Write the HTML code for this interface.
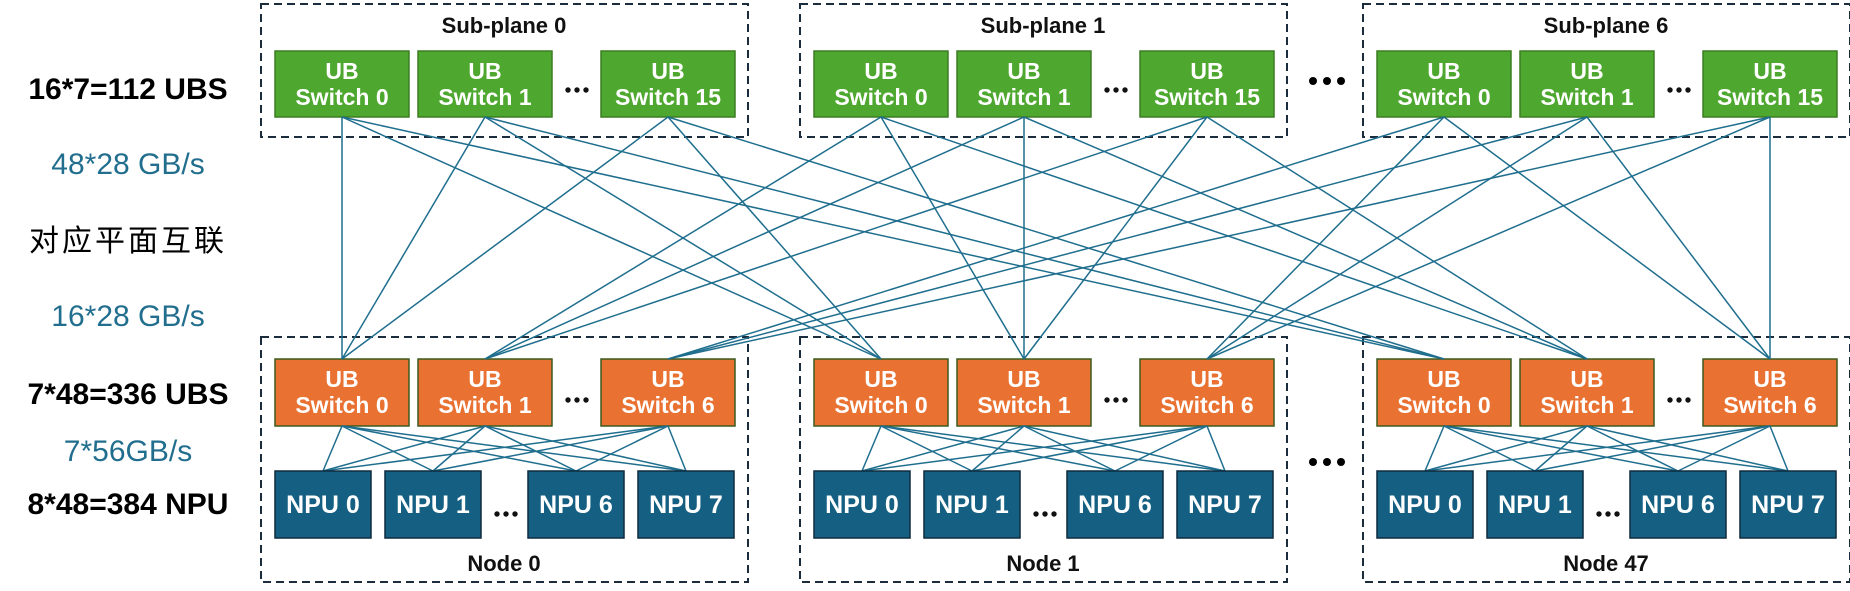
<!DOCTYPE html>
<html><head><meta charset="utf-8"><style>
html,body{margin:0;padding:0;background:#fff;}
svg{display:block;}
text{font-family:"Liberation Sans","Noto Sans CJK SC",sans-serif;}
.b{font-weight:bold;fill:#fff;font-size:23px;text-anchor:middle;}
.np{font-weight:bold;fill:#fff;font-size:25px;text-anchor:middle;}
.t{font-weight:bold;fill:#111;font-size:22px;text-anchor:middle;}
.g{fill:#4ea72e;stroke:#3b7d23;stroke-width:1.5;}
.o{fill:#e97132;stroke:#3b5a1e;stroke-width:1.5;}
.n{fill:#156082;stroke:#0e2a3e;stroke-width:1.5;}
.d{fill:none;stroke:#1b2d3c;stroke-width:2;stroke-dasharray:8,5;}
.l line{stroke:#1f6e8e;stroke-width:1.5;}
</style></head><body>
<svg width="1850" height="591" viewBox="0 0 1850 591" xmlns="http://www.w3.org/2000/svg">
<defs>
<g id="top">
<rect class="d" x="0" y="4" width="487" height="133"/>
<rect class="g" x="14" y="51" width="134" height="66"/>
<rect class="g" x="157" y="51" width="134" height="66"/>
<rect class="g" x="340" y="51" width="134" height="66"/>
<text class="b" x="81" y="79">UB</text><text class="b" x="81" y="105">Switch 0</text>
<text class="b" x="224" y="79">UB</text><text class="b" x="224" y="105">Switch 1</text>
<text class="b" x="407" y="79">UB</text><text class="b" x="407" y="105">Switch 15</text>
<circle cx="307" cy="90" r="2.7" fill="#111"/><circle cx="316" cy="90" r="2.7" fill="#111"/><circle cx="325" cy="90" r="2.7" fill="#111"/>
</g>
<g id="bot">
<rect class="d" x="0" y="337" width="487" height="245"/>
<rect class="o" x="14" y="359" width="134" height="67"/>
<rect class="o" x="157" y="359" width="134" height="67"/>
<rect class="o" x="340" y="359" width="134" height="67"/>
<text class="b" x="81" y="387">UB</text><text class="b" x="81" y="413">Switch 0</text>
<text class="b" x="224" y="387">UB</text><text class="b" x="224" y="413">Switch 1</text>
<text class="b" x="407" y="387">UB</text><text class="b" x="407" y="413">Switch 6</text>
<circle cx="307" cy="400" r="2.7" fill="#111"/><circle cx="316" cy="400" r="2.7" fill="#111"/><circle cx="325" cy="400" r="2.7" fill="#111"/>
<g class="l">
<line x1="81" y1="426" x2="62" y2="471"/><line x1="81" y1="426" x2="172" y2="471"/><line x1="81" y1="426" x2="315" y2="471"/><line x1="81" y1="426" x2="425" y2="471"/>
<line x1="224" y1="426" x2="62" y2="471"/><line x1="224" y1="426" x2="172" y2="471"/><line x1="224" y1="426" x2="315" y2="471"/><line x1="224" y1="426" x2="425" y2="471"/>
<line x1="407" y1="426" x2="62" y2="471"/><line x1="407" y1="426" x2="172" y2="471"/><line x1="407" y1="426" x2="315" y2="471"/><line x1="407" y1="426" x2="425" y2="471"/>
</g>
<rect class="n" x="14" y="471" width="96" height="67"/>
<rect class="n" x="124" y="471" width="96" height="67"/>
<rect class="n" x="267" y="471" width="96" height="67"/>
<rect class="n" x="377" y="471" width="96" height="67"/>
<text class="np" x="62" y="513">NPU 0</text>
<text class="np" x="172" y="513">NPU 1</text>
<text class="np" x="315" y="513">NPU 6</text>
<text class="np" x="425" y="513">NPU 7</text>
<circle cx="236" cy="514" r="2.7" fill="#111"/><circle cx="245" cy="514" r="2.7" fill="#111"/><circle cx="254" cy="514" r="2.7" fill="#111"/>
</g>
</defs>

<use href="#top" x="261"/><use href="#top" x="800"/><use href="#top" x="1363"/>
<use href="#bot" x="261"/><use href="#bot" x="800"/><use href="#bot" x="1363"/>

<text class="t" x="504" y="33">Sub-plane 0</text>
<text class="t" x="1043" y="33">Sub-plane 1</text>
<text class="t" x="1606" y="33">Sub-plane 6</text>
<text class="t" x="504" y="571">Node 0</text>
<text class="t" x="1043" y="571">Node 1</text>
<text class="t" x="1606" y="571">Node 47</text>

<g class="l">
<line x1="342" y1="117" x2="342" y2="359"/><line x1="342" y1="117" x2="881" y2="359"/><line x1="342" y1="117" x2="1444" y2="359"/>
<line x1="485" y1="117" x2="342" y2="359"/><line x1="485" y1="117" x2="881" y2="359"/><line x1="485" y1="117" x2="1444" y2="359"/>
<line x1="668" y1="117" x2="342" y2="359"/><line x1="668" y1="117" x2="881" y2="359"/><line x1="668" y1="117" x2="1444" y2="359"/>
<line x1="881" y1="117" x2="485" y2="359"/><line x1="881" y1="117" x2="1024" y2="359"/><line x1="881" y1="117" x2="1587" y2="359"/>
<line x1="1024" y1="117" x2="485" y2="359"/><line x1="1024" y1="117" x2="1024" y2="359"/><line x1="1024" y1="117" x2="1587" y2="359"/>
<line x1="1207" y1="117" x2="485" y2="359"/><line x1="1207" y1="117" x2="1024" y2="359"/><line x1="1207" y1="117" x2="1587" y2="359"/>
<line x1="1444" y1="117" x2="668" y2="359"/><line x1="1444" y1="117" x2="1207" y2="359"/><line x1="1444" y1="117" x2="1770" y2="359"/>
<line x1="1587" y1="117" x2="668" y2="359"/><line x1="1587" y1="117" x2="1207" y2="359"/><line x1="1587" y1="117" x2="1770" y2="359"/>
<line x1="1770" y1="117" x2="668" y2="359"/><line x1="1770" y1="117" x2="1207" y2="359"/><line x1="1770" y1="117" x2="1770" y2="359"/>
</g>

<circle cx="1313" cy="81" r="4" fill="#000"/><circle cx="1327" cy="81" r="4" fill="#000"/><circle cx="1341" cy="81" r="4" fill="#000"/>
<circle cx="1313" cy="462" r="4" fill="#000"/><circle cx="1327" cy="462" r="4" fill="#000"/><circle cx="1341" cy="462" r="4" fill="#000"/>

<text x="128" y="99" text-anchor="middle" font-weight="bold" font-size="30" fill="#000">16*7=112 UBS</text>
<text x="128" y="174" text-anchor="middle" font-size="30" fill="#226e8e">48*28 GB/s</text>
<text x="128" y="251" text-anchor="middle" font-size="30" fill="#000" letter-spacing="3">对应平面互联</text>
<text x="128" y="326" text-anchor="middle" font-size="30" fill="#226e8e">16*28 GB/s</text>
<text x="128" y="404" text-anchor="middle" font-weight="bold" font-size="30" fill="#000">7*48=336 UBS</text>
<text x="128" y="461" text-anchor="middle" font-size="30" fill="#226e8e">7*56GB/s</text>
<text x="128" y="514" text-anchor="middle" font-weight="bold" font-size="30" fill="#000">8*48=384 NPU</text>
</svg>
</body></html>
